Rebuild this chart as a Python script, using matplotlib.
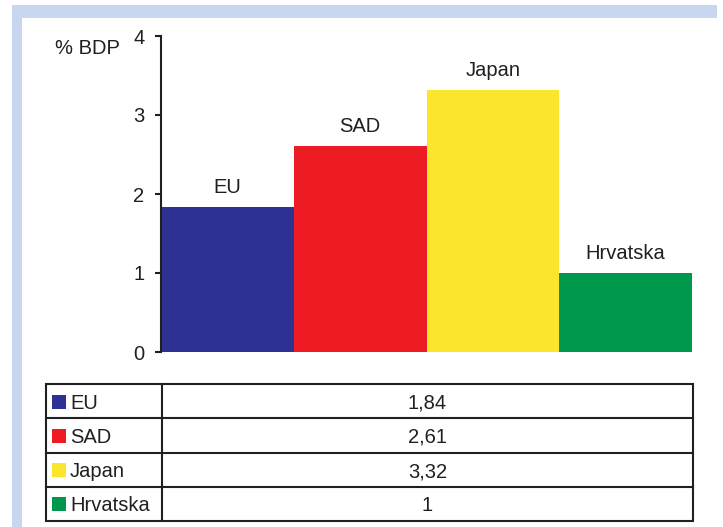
import matplotlib.pyplot as plt
from matplotlib.patches import Rectangle

plt.rcParams['font.family'] = ['Liberation Sans', 'DejaVu Sans']

# podaci
zemlje = ['EU', 'SAD', 'Japan', 'Hrvatska']
vrijednosti = [1.84, 2.61, 3.32, 1.0]
oznake = ['1,84', '2,61', '3,32', '1']
boje = ['#2e3192', '#ed1c24', '#fbe62c', '#00984a']
yticks = [0, 1, 2, 3, 4]

W, H = 723, 527
fs = 14.5
fig = plt.figure(figsize=(W / 100, H / 100), dpi=100)
fig.patch.set_facecolor('white')

# plavi okvir
okvir = '#c8d7ef'
fig.patches.append(Rectangle((12 / W, 0), (717 - 12) / W, (527 - 5) / H,
                             transform=fig.transFigure, facecolor=okvir,
                             edgecolor='none', zorder=-2))
fig.patches.append(Rectangle((22 / W, 0), (717 - 22) / W, (527 - 18) / H,
                             transform=fig.transFigure, facecolor='white',
                             edgecolor='none', zorder=-1))

# stupci
ax = fig.add_axes([161 / W, 1 - 352 / H, 531 / W, 316 / H])
ax.patch.set_alpha(0)
x = range(len(zemlje))
ax.bar(x, vrijednosti, width=1.0, color=boje, edgecolor='none')
for i, v in enumerate(vrijednosti):
    ax.annotate(zemlje[i], (i, v), xytext=(0, 7), textcoords='offset points',
                ha='center', va='bottom', fontsize=fs, color='#231f20')
ax.set_xlim(-0.5, len(zemlje) - 0.5)
ax.set_ylim(0, 4)
ax.set_yticks(yticks)
ax.set_xticks([])
for s in ['top', 'right', 'bottom']:
    ax.spines[s].set_visible(False)
ax.spines['left'].set_linewidth(1.5)
ax.spines['left'].set_color('#231f20')
ax.tick_params(axis='y', length=4, width=1.5, pad=8, labelsize=fs,
               color='#231f20', labelcolor='#231f20')
fig.text(55 / W, 1 - 49 / H, '% BDP', fontsize=fs, va='center', ha='left',
         color='#231f20')

# tablica
tx = fig.add_axes([44 / W, 1 - 523 / H, 651 / W, 141 / H])
tx.set_xlim(44, 695)
tx.set_ylim(523, 382)
tx.axis('off')
lijevo, desno, sredina = 46, 693, 162
vrh, visina = 384, 34.25
lc = '#231f20'
n = len(zemlje)
tx.add_patch(Rectangle((lijevo, vrh), desno - lijevo, visina * n,
                       facecolor='white', edgecolor=lc, linewidth=1.5))
for i in range(1, n):
    tx.plot([lijevo, desno], [vrh + i * visina] * 2, color=lc, lw=1.5)
tx.plot([sredina, sredina], [vrh, vrh + n * visina], color=lc, lw=1.5)
for i in range(n):
    yc = vrh + (i + 0.5) * visina
    tx.add_patch(Rectangle((52, yc - 6.5), 14, 14, facecolor=boje[i],
                           edgecolor='none'))
    tx.text(70, yc + 2, zemlje[i], fontsize=fs, va='center', ha='left', color=lc)
    tx.text((sredina + desno) / 2, yc + 2, oznake[i], fontsize=fs, va='center',
            ha='center', color=lc)

fig.savefig('out.png', dpi=100)
